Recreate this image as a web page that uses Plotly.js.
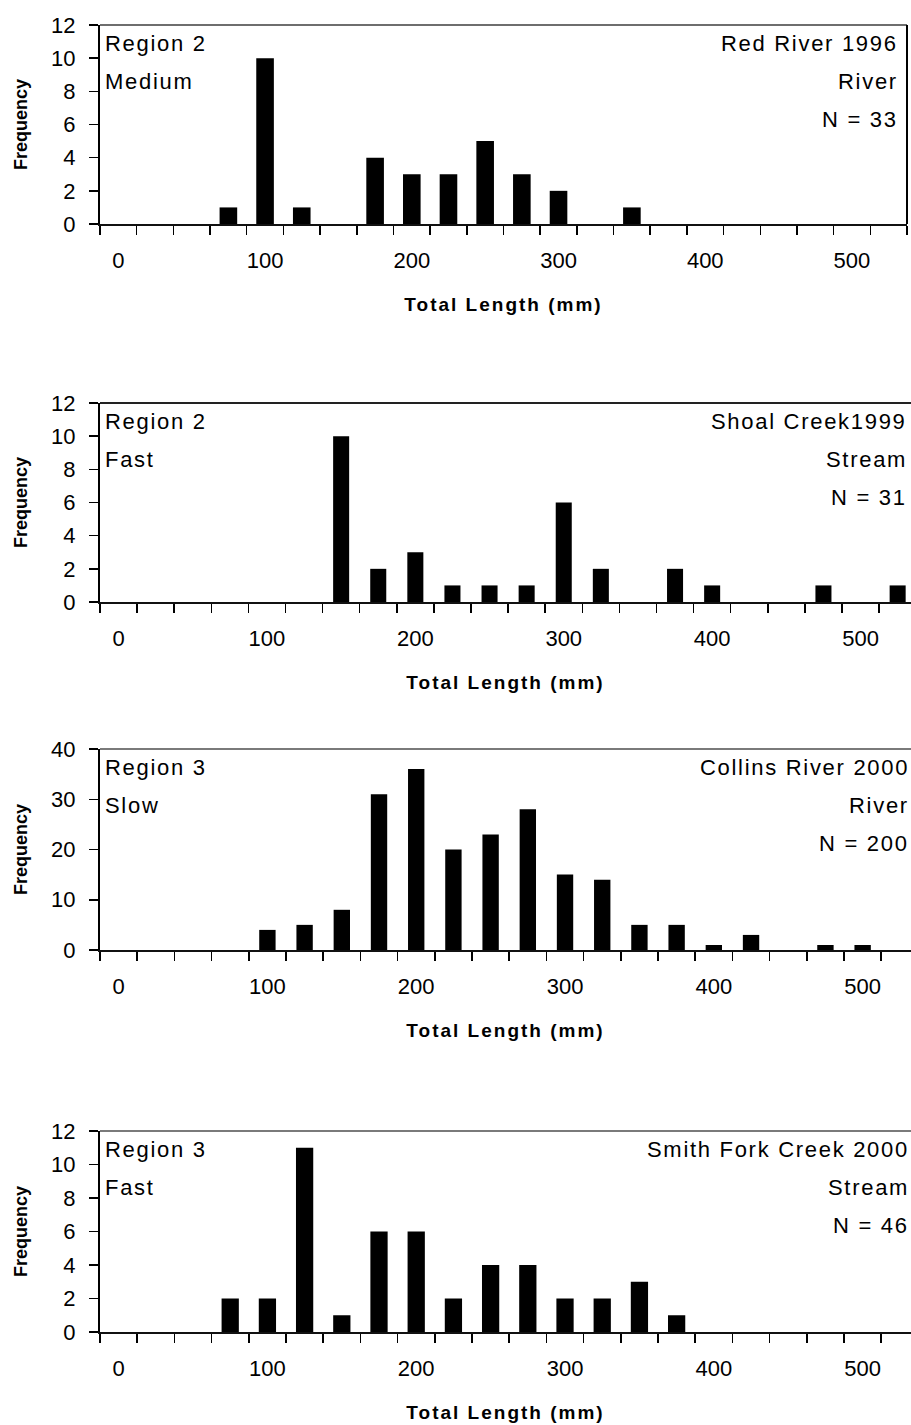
<!DOCTYPE html>
<html><head><meta charset="utf-8">
<script src="https://cdn.plot.ly/plotly-3.0.1.min.js"></script>
<style>
body{margin:0;background:#fff}
.annotation-text{letter-spacing:1.7px}
.xtitle,.x2title,.x3title,.x4title{letter-spacing:2px}
</style></head><body><div id="chart" style="width:911px;height:1425px"></div>
<script>
// Length classes (mm), 25 mm bins
const lengthBins = [0,25,50,75,100,125,150,175,200,225,250,275,300,325,350,375,400,425,450,475,500,525];
const xTickLabels = [0,100,200,300,400,500];

// Frequencies per bin
const redRiver1996      = [0,0,0,1,10,1,0,4,3,3,5,3,2,0,1,0,0,0,0,0,0,0];
const shoalCreek1999    = [0,0,0,0,0,0,10,2,3,1,1,1,6,2,0,2,1,0,0,1,0,1];
const collinsRiver2000  = [0,0,0,0,4,5,8,31,36,20,23,28,15,14,5,5,1,3,0,1,1,0];
const smithForkCreek2000= [0,0,0,2,2,11,1,6,6,2,4,4,2,2,3,1,0,0,0,0,0,0];

const regionLabels = ["Region 2","Region 2","Region 3","Region 3"];
const speedLabels  = ["Medium","Fast","Slow","Fast"];
const siteLabels   = ["Red River 1996","Shoal Creek1999","Collins River 2000","Smith Fork Creek 2000"];
const typeLabels   = ["River","Stream","River","Stream"];
const sampleSizes  = [33,31,200,46];
const yMax   = [12,12,40,12];
const yStep  = [2,2,10,2];

const series = [redRiver1996, shoalCreek1999, collinsRiver2000, smithForkCreek2000];

// layout geometry (style, not data)
const W = 911, H = 1425;
const panelTop    = [25, 403, 749, 1131];
const panelBottom = [224, 602, 950, 1332];
const panelRight  = [907, 911, 911, 911];
const xRangeMax   = [537.5, 534, 532.5, 532.5];
const barWidth    = [12, 10.8, 11, 11.6];
const topLineColor= ['#6e6e6e','#222','#7a7a7a','#7a7a7a'];

const FONT = 'Liberation Sans, Arial, sans-serif';
const boundaries = lengthBins.map(b => b - 12.5).concat([lengthBins[lengthBins.length-1] + 12.5]);

const data = [];
const layout = {
  width: W, height: H,
  margin: {l:0, r:0, t:0, b:0},
  paper_bgcolor: '#fff', plot_bgcolor: '#fff',
  showlegend: false,
  font: {family: FONT, size: 22, color: '#000'},
  annotations: [], shapes: []
};

for (let i = 0; i < 4; i++) {
  const n = i === 0 ? '' : String(i + 1);
  data.push({
    type: 'bar', x: lengthBins, y: series[i],
    xaxis: 'x' + n, yaxis: 'y' + n,
    width: barWidth[i],
    marker: {color: '#000', line: {width: 0}},
    hoverinfo: 'x+y'
  });
  layout['xaxis' + n] = {
    domain: [100 / W, panelRight[i] / W],
    anchor: 'y' + n,
    range: [-12.5, xRangeMax[i]],
    tickmode: 'array', tickvals: xTickLabels, ticktext: xTickLabels.map(String),
    ticks: '', ticklabelstandoff: 16,
    tickfont: {family: FONT, size: 22, color: '#000'},
    minor: {tickmode: 'array', tickvals: boundaries, ticks: 'outside', ticklen: 9, tickwidth: 1.5, tickcolor: '#000', showgrid: false},
    showline: true, linecolor: '#111', linewidth: 2,
    showgrid: false, zeroline: false, fixedrange: true,
    title: {text: 'Total Length (mm)', font: {family: FONT, size: 19, color: '#000', weight: 'bold'}, standoff: 25}
  };
  layout['yaxis' + n] = {
    domain: [1 - panelBottom[i] / H, 1 - panelTop[i] / H],
    anchor: 'x' + n,
    range: [0, yMax[i]], dtick: yStep[i], tick0: 0,
    ticks: 'outside', ticklen: 9, tickwidth: 1.5, tickcolor: '#000',
    ticklabelstandoff: 9,
    tickfont: {family: FONT, size: 22, color: '#000'},
    showline: true, linecolor: '#000', linewidth: 2,
    showgrid: false, zeroline: false, fixedrange: true,
    title: {text: 'Frequency', font: {family: FONT, size: 18, color: '#000', weight: 'bold'}, standoff: 19}
  };
  // frame: top border (and right border for the first panel)
  layout.shapes.push({type: 'line', xref: 'x' + n + ' domain', yref: 'y' + n + ' domain',
    x0: 0, x1: 1, y0: 1, y1: 1, line: {color: topLineColor[i], width: 2}});
  if (i === 0) {
    layout.shapes.push({type: 'line', xref: 'x domain', yref: 'y domain',
      x0: 1, x1: 1, y0: 0, y1: 1, line: {color: '#000', width: 2}});
  }
  const leftTexts = [regionLabels[i], speedLabels[i]];
  leftTexts.forEach((t, k) => layout.annotations.push({
    xref: 'x' + n + ' domain', yref: 'y' + n + ' domain', x: 0, y: 1,
    xanchor: 'left', yanchor: 'middle', xshift: 3, yshift: -18 - 38 * k,
    text: t, showarrow: false, font: {family: FONT, size: 22, color: '#000'}
  }));
  const rightTexts = [siteLabels[i], typeLabels[i], 'N = ' + sampleSizes[i]];
  const rightEdge = [907, 916, 918, 918][i];
  rightTexts.forEach((t, k) => layout.annotations.push({
    xref: 'paper', yref: 'y' + n + ' domain', x: (rightEdge - 7) / W, y: 1,
    xanchor: 'right', yanchor: 'middle', yshift: -18 - 38 * k,
    text: t, showarrow: false, font: {family: FONT, size: 22, color: '#000'}
  }));
}

Plotly.newPlot('chart', data, layout, {displayModeBar: false, staticPlot: true});
</script></body></html>
